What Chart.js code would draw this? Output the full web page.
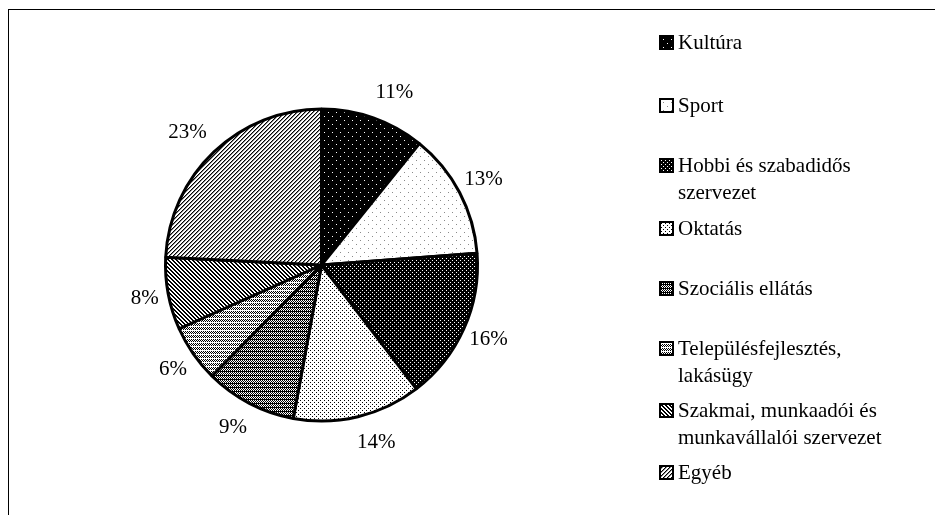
<!DOCTYPE html>
<html>
<head>
<meta charset="utf-8">
<script src="https://cdn.jsdelivr.net/npm/chart.js@4"></script>
<style>
  body { margin: 0; background: #fff; width: 935px; height: 515px; overflow: hidden; position: relative;
         font-family: "Liberation Serif", "Times New Roman", serif; }
  .frame { position: absolute; left: 8px; top: 9px; width: 1000px; height: 600px; border: 1px solid #000; }
  #pie { position: absolute; left: 0; top: 0; }
  .item { position: absolute; left: 659px; font-size: 21px; line-height: 27px; color: #000; white-space: nowrap; }
  .item canvas { position: absolute; left: 0; top: 6px; }
  .item span { display: block; margin-left: 19px; }
</style>
</head>
<body>
<div class="frame"></div>
<canvas id="pie" width="935" height="515"></canvas>
<div id="legend"></div>
<script>
// data
const categories = [
  ["Kultúra"],
  ["Sport"],
  ["Hobbi és szabadidős", "szervezet"],
  ["Oktatás"],
  ["Szociális ellátás"],
  ["Településfejlesztés,", "lakásügy"],
  ["Szakmai, munkaadói és", "munkavállalói szervezet"],
  ["Egyéb"]
];
// slice sizes as measured on the picture (%)
const shares = [10.8, 13.0, 15.8, 13.3, 9.5, 5.9, 7.5, 24.2];
// data labels as printed
const pctText = ["11%", "13%", "16%", "14%", "9%", "6%", "8%", "23%"];

// layout: legend rows (centre of first line) and small label nudges
const legendY = [42, 105, 165, 228, 288, 348, 410, 472];
const labelDx = [12, 0, 0, 12, -4, 2, 3, -8];

// fill patterns, k = black, w = white, g = grey
const tiles = [
  ["wkkkkkkk","kkkkkkkk","kkkkkkkk","kkkkkkkk","kkkkwkkk","kkkkkkkk","kkkkkkkk","kkkkkkkk"],
  ["gwwwwwww","wwwwwwww","wwwwwwww","wwwwwwww","wwwwgwww","wwwwwwww","wwwwwwww","wwwwwwww"],
  ["wkkk","kkkk","kkwk","kkkk"],
  ["kwww","wwww","wwkw","wwww"],
  ["kwkw","wkwk","kwkw","kkkk"],
  ["kwkw","wkwk","wwww","wkwk"],
  ["kkww","wkkw","wwkk","kwwk"],
  ["kgww","gwwk","wwkg","wkgw"]
];
const shade = { k: "#000", w: "#fff", g: "#8a8a8a" };

function makeTile(rows) {
  const c = document.createElement("canvas");
  c.width = rows[0].length; c.height = rows.length;
  const x = c.getContext("2d");
  rows.forEach((row, j) => {
    for (let i = 0; i < row.length; i++) {
      x.fillStyle = shade[row[i]];
      x.fillRect(i, j, 1, 1);
    }
  });
  return c;
}

const canvas = document.getElementById("pie");
const ctx = canvas.getContext("2d");
const patterns = tiles.map(t => ctx.createPattern(makeTile(t), "repeat"));

// percentage labels outside the slices
const pctLabels = {
  id: "pctLabels",
  afterDatasetsDraw(chart) {
    const c = chart.ctx;
    const meta = chart.getDatasetMeta(0);
    c.save();
    c.font = '21px "Liberation Serif"';
    c.fillStyle = "#000";
    c.textAlign = "center";
    c.textBaseline = "middle";
    meta.data.forEach((arc, i) => {
      const p = arc.getProps(["x", "y", "startAngle", "endAngle", "outerRadius"], true);
      const a = (p.startAngle + p.endAngle) / 2;
      const r = p.outerRadius + 27;
      c.fillText(pctText[i], p.x + Math.cos(a) * r + labelDx[i], p.y + Math.sin(a) * r);
    });
    c.restore();
  }
};

new Chart(canvas, {
  type: "pie",
  data: {
    labels: categories,
    datasets: [{
      data: shares,
      backgroundColor: patterns,
      borderColor: "#000",
      borderWidth: 3
    }]
  },
  options: {
    responsive: false,
    animation: false,
    layout: { padding: { left: 164, top: 107.5, right: 456, bottom: 92.5 } },
    plugins: { legend: { display: false }, tooltip: { enabled: false } }
  },
  plugins: [pctLabels]
});

// legend
const legend = document.getElementById("legend");
categories.forEach((lines, i) => {
  const item = document.createElement("div");
  item.className = "item";
  item.style.top = (legendY[i] - 13.5) + "px";
  const sw = document.createElement("canvas");
  sw.width = 15; sw.height = 15;
  const s = sw.getContext("2d");
  s.fillStyle = s.createPattern(makeTile(tiles[i]), "repeat");
  s.fillRect(0, 0, 15, 15);
  s.lineWidth = 2;
  s.strokeStyle = "#000";
  s.strokeRect(1, 1, 13, 13);
  item.appendChild(sw);
  const txt = document.createElement("span");
  txt.innerHTML = lines.join("<br>");
  item.appendChild(txt);
  legend.appendChild(item);
});
</script>
</body>
</html>
